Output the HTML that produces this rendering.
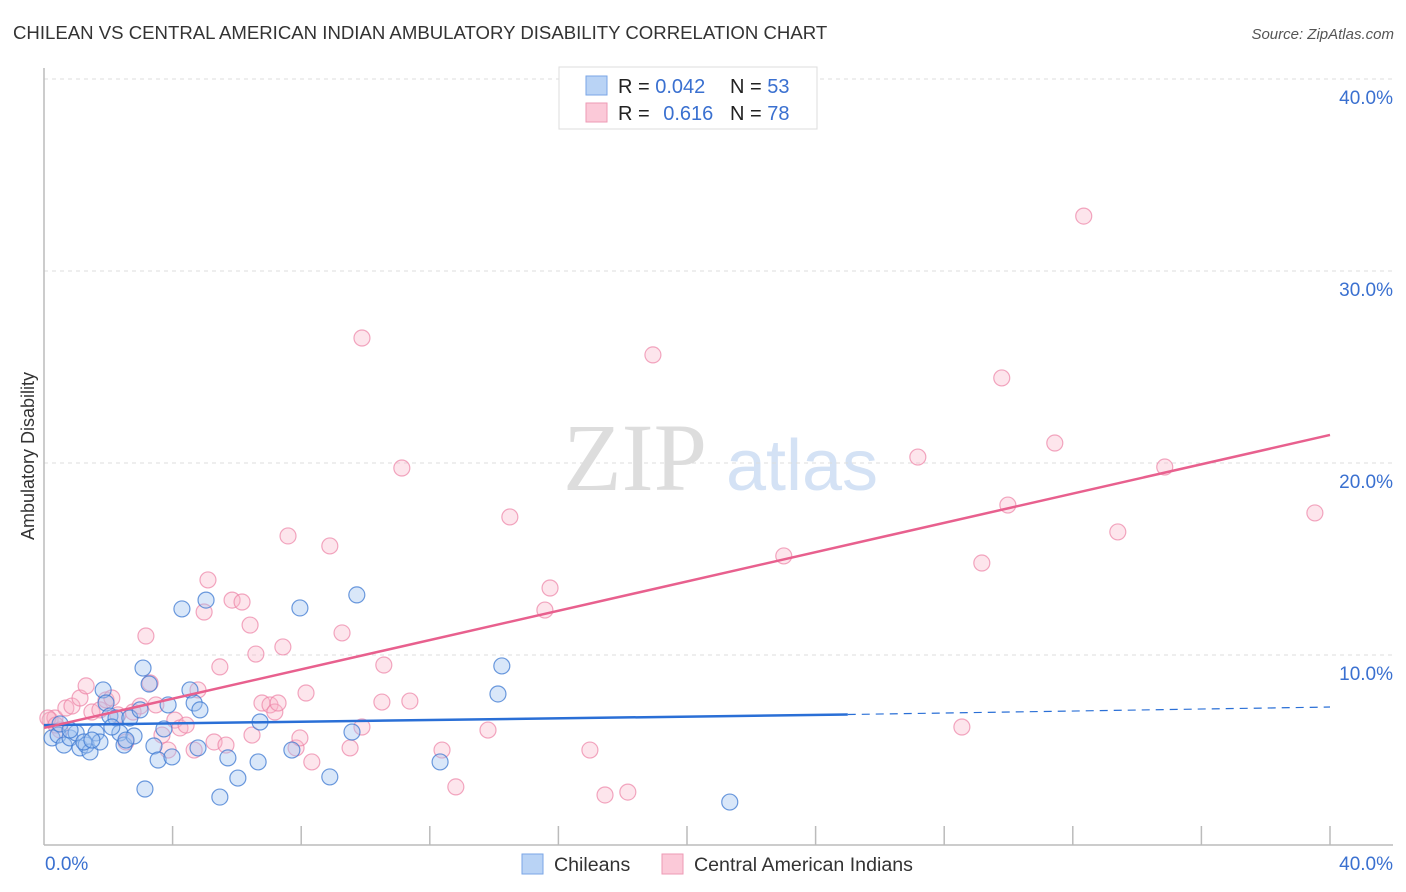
<!DOCTYPE html>
<html><head><meta charset="utf-8"><style>
body{margin:0;background:#fff;font-family:"Liberation Sans",sans-serif;}
#wrap{position:relative;width:1406px;height:892px;overflow:hidden;}
</style></head><body>
<div id="wrap">
<svg id="svg" width="1406" height="892" xmlns="http://www.w3.org/2000/svg">
<text x="13" y="39" font-size="18.6" fill="#333">CHILEAN VS CENTRAL AMERICAN INDIAN AMBULATORY DISABILITY CORRELATION CHART</text>
<text x="1394" y="39" font-size="15" font-style="italic" fill="#555" text-anchor="end">Source: ZipAtlas.com</text>
<text x="34" y="456" font-size="18" fill="#333" text-anchor="middle" transform="rotate(-90 34 456)">Ambulatory Disability</text>
<g>
<text x="635" y="490" font-size="96" font-family="Liberation Serif" fill="#ddd" text-anchor="middle">ZIP</text>
<text x="802" y="490" font-size="72" fill="#d4e2f5" text-anchor="middle">atlas</text>
</g>
<g id="grid"></g><g id="axes"></g><g id="pts"></g><g id="lines"></g>
<g>
<rect x="559" y="67" width="258" height="62" fill="#fff" stroke="#ddd"/>
<rect x="586" y="76" width="21" height="19" fill="#b9d3f5" stroke="#7aa6e6"/>
<rect x="586" y="103" width="21" height="19" fill="#fbc9d8" stroke="#ee9ab5"/>
<text x="618" y="93" font-size="20" fill="#222">R = <tspan fill="#3a70d0">0.042</tspan></text>
<text x="730" y="93" font-size="20" fill="#222">N = <tspan fill="#3a70d0">53</tspan></text>
<text x="618" y="120" font-size="20" fill="#222">R = <tspan fill="#3a70d0" dx="8">0.616</tspan></text>
<text x="730" y="120" font-size="20" fill="#222">N = <tspan fill="#3a70d0">78</tspan></text>
</g>
<g>
<rect x="522" y="854" width="21" height="20" fill="#b9d3f5" stroke="#7aa6e6"/>
<text x="554" y="871" font-size="19.6" fill="#333">Chileans</text>
<rect x="662" y="854" width="21" height="20" fill="#fbc9d8" stroke="#ee9ab5"/>
<text x="694" y="871" font-size="19.6" fill="#333">Central American Indians</text>
</g>
</svg>
</div>
<script>
const yTicks=[10,20,30,40];
const yTickLabels=["10.0%","20.0%","30.0%","40.0%"];
const xTicks=[0,4,8,12,16,20,24,28,32,36,40];
const chileansX=[0.25,0.44,0.62,0.81,1.0,1.12,1.31,1.43,1.62,1.74,1.84,1.93,2.05,2.24,2.36,2.49,2.67,2.8,2.99,3.08,3.14,3.27,3.42,3.55,3.73,3.86,3.98,4.29,4.54,4.67,4.79,4.85,5.04,5.47,5.72,6.03,6.66,6.72,7.71,7.96,8.89,9.58,9.73,12.32,14.12,14.24,21.33,0.5,0.81,1.24,1.49,2.11,2.55];
const chileansY=[5.68,5.83,5.31,5.68,5.94,5.16,5.31,4.95,5.94,5.47,8.18,7.5,6.82,6.72,5.94,5.31,6.72,5.78,7.14,9.32,3.02,8.49,5.26,4.53,6.15,7.4,4.69,12.4,8.18,7.5,5.16,7.14,12.86,2.6,4.64,3.59,4.43,6.51,5.05,12.45,3.65,5.99,13.13,4.43,7.97,9.43,2.34,6.41,6.09,5.47,5.57,6.25,5.57];
const caiX=[0.19,0.34,0.5,0.68,0.87,1.12,1.31,1.49,1.74,1.93,2.11,2.3,2.55,2.77,2.99,3.17,3.3,3.48,3.67,3.86,4.07,4.23,4.42,4.67,4.79,4.98,5.1,5.29,5.47,5.66,5.85,6.16,6.41,6.47,6.59,6.78,7.03,7.18,7.28,7.43,7.59,7.84,7.96,8.15,8.33,8.89,9.27,9.52,9.89,9.89,10.57,10.51,11.13,11.38,12.38,12.81,13.81,14.49,15.58,15.74,16.98,17.45,18.16,18.94,23.01,27.18,28.55,29.17,29.79,29.98,31.44,32.34,33.4,34.86,39.53,0.12,0.37];
const caiY=[6.61,6.72,6.09,7.24,7.34,7.76,8.39,7.03,7.14,7.66,7.76,6.88,5.47,7.03,7.34,10.99,8.54,7.4,5.83,5.05,6.61,6.2,6.35,5.05,8.18,12.24,13.91,5.47,9.38,5.31,12.86,12.76,11.56,5.83,10.05,7.5,7.4,7.03,7.5,10.42,16.2,5.16,5.68,8.02,4.43,15.68,11.15,5.16,6.25,26.51,9.48,7.55,19.74,7.6,5.05,3.13,6.09,17.19,12.34,13.49,5.05,2.71,2.86,25.63,15.16,20.31,6.25,14.79,24.43,17.81,21.04,32.86,16.41,19.79,17.4,6.72,6.35];
const blueTrend=[[0,6.35],[25,6.9],[40,7.29]];
const pinkTrend=[[0,6.2],[40,21.46]];
const NS="http://www.w3.org/2000/svg";
const X0=44,X1=1330,Y0=847,PY=19.2;
const sx=v=>X0+(X1-X0)*v/40, sy=v=>Y0-v*PY;
function mk(t,a,p){const e=document.createElementNS(NS,t);for(const k in a)e.setAttribute(k,a[k]);document.getElementById(p).appendChild(e);return e;}
yTicks.forEach((t,i)=>{
 const g=mk('line',{x1:X0,x2:1393,y1:sy(t),y2:sy(t),stroke:'#ddd','stroke-dasharray':'4,4'},'grid');
 
 
 const l=mk('text',{x:1393,y:sy(t)+25,'font-size':19,fill:'#3a70d0','text-anchor':'end'},'axes');
 l.textContent=yTickLabels[i];
 
 
});
const ax=mk('line',{x1:X0,x2:1393,y1:845,y2:845,stroke:'#bbb','stroke-width':1.5},'axes');


const ay=mk('line',{x1:X0,x2:X0,y1:68,y2:845,stroke:'#bbb','stroke-width':1.5},'axes');


xTicks.forEach(t=>{if(t===0)return;const l=mk('line',{x1:sx(t),x2:sx(t),y1:826,y2:845,stroke:'#bbb','stroke-width':1.5},'axes');
 
 });
const xl=mk('text',{x:45,y:870,'font-size':19,fill:'#3a70d0'},'axes');xl.textContent='0.0%';


const xr=mk('text',{x:1393,y:870,'font-size':19,fill:'#3a70d0','text-anchor':'end'},'axes');xr.textContent='40.0%';


caiX.forEach((v,i)=>{const c=mk('circle',{cx:sx(v),cy:sy(caiY[i]),r:8,fill:'rgba(248,180,200,0.35)',stroke:'rgba(236,130,165,0.7)','stroke-width':1.2},'pts');
 
 });
chileansX.forEach((v,i)=>{const c=mk('circle',{cx:sx(v),cy:sy(chileansY[i]),r:8,fill:'rgba(160,195,240,0.4)',stroke:'rgba(60,120,210,0.75)','stroke-width':1.2},'pts');
 
 });
const b1=mk('line',{x1:sx(blueTrend[0][0]),y1:sy(blueTrend[0][1]),x2:sx(blueTrend[1][0]),y2:sy(blueTrend[1][1]),stroke:'#2a6fd6','stroke-width':2.5},'lines');


const b2=mk('line',{x1:sx(blueTrend[1][0]),y1:sy(blueTrend[1][1]),x2:sx(blueTrend[2][0]),y2:sy(blueTrend[2][1]),stroke:'#2a6fd6','stroke-width':1.2,'stroke-dasharray':'8,6'},'lines');


const p1=mk('line',{x1:sx(pinkTrend[0][0]),y1:sy(pinkTrend[0][1]),x2:sx(pinkTrend[1][0]),y2:sy(pinkTrend[1][1]),stroke:'#e8608e','stroke-width':2.5},'lines');


</script>
</body></html>
